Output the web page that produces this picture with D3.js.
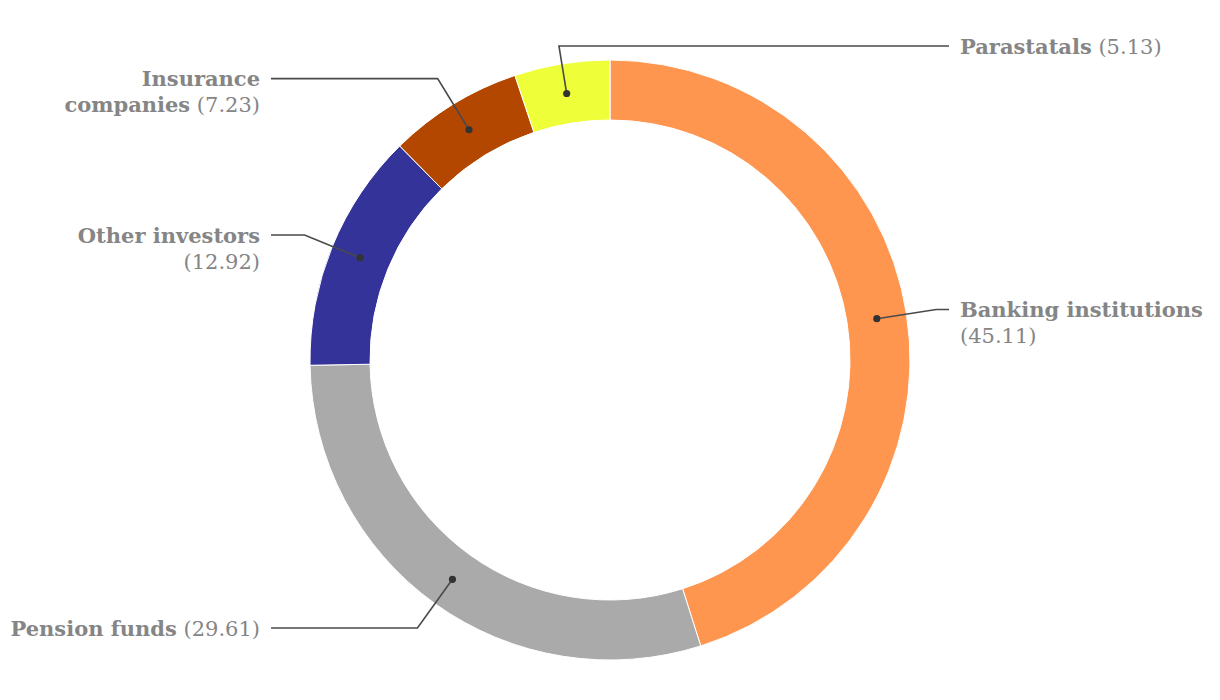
<!DOCTYPE html>
<html>
<head>
<meta charset="utf-8">
<script src="https://cdn.jsdelivr.net/npm/d3@7"></script>
<style>
  html, body { margin: 0; padding: 0; background: #ffffff; }
  svg { display: block; }
  text { font-family: "DejaVu Serif", "Liberation Serif", serif; }
</style>
</head>
<body>
<svg id="chart" width="1220" height="700"></svg>
<script>
// ---- data ----
const categories = ["Banking institutions", "Pension funds", "Other investors", "Insurance companies", "Parastatals"];
const values = [45.11, 29.61, 12.92, 7.23, 5.13];
const colors = ["#ff9650", "#aaaaaa", "#333399", "#b34700", "#eeff3a"];
// label wrapping: "\n" inside the name = line break; valueOwnLine = value on its own line
const labelNames = ["Banking institutions", "Pension funds", "Other investors", "Insurance\ncompanies", "Parastatals"];
const valueOwnLine = [true, false, true, false, false];

// ---- layout ----
const W = 1220, H = 700;
const cx = 610, cy = 360;
const outerR = 300, innerR = 240, dotR = 270, elbowR = 330;
const lineEndOffset = 339, labelOffset = 350;
const topLimit = -314;
const fontSize = 21, lineH = 26;

const svg = d3.select("#chart");
const g = svg.append("g").attr("transform", `translate(${cx},${cy})`);

const pie = d3.pie().sort(null).value(d => d.value).startAngle(0).endAngle(2 * Math.PI);
const data = categories.map((c, i) => ({ name: c, value: values[i], color: colors[i], label: labelNames[i], own: valueOwnLine[i] }));
const arcs = pie(data);

const arc = d3.arc().innerRadius(innerR).outerRadius(outerR);

g.selectAll("path.slice")
  .data(arcs)
  .join("path")
  .attr("class", "slice")
  .attr("d", arc)
  .attr("fill", d => d.data.color)
  .attr("stroke", "#ffffff")
  .attr("stroke-width", 1);

const fmt = d3.format(".2f");

// compute label anchors
const labels = arcs.map(a => {
  const mid = (a.startAngle + a.endAngle) / 2;
  const dot = d3.pointRadial(mid, dotR);
  let el = d3.pointRadial(mid, elbowR);
  if (el[1] < topLimit) {
    const y = topLimit;
    el = [-y * Math.tan(mid), y];
  }
  const nameLines = a.data.label.split("\n");
  const nLines = nameLines.length + (a.data.own ? 1 : 0);
  return { a, mid, dot, el, right: el[0] >= 0, nameLines, nLines };
});

// simple collision handling: flip the label nearer the top/centre to the other side
for (let i = 0; i < labels.length; i++) {
  for (let j = 0; j < labels.length; j++) {
    if (i === j) continue;
    const A = labels[i], B = labels[j];
    if (A.right !== B.right) continue;
    const upper = A.el[1] < B.el[1] ? A : B;
    const lower = upper === A ? B : A;
    const need = (upper.nLines + 1) * lineH;
    if (lower.el[1] - upper.el[1] < need && Math.abs(upper.el[0]) < Math.abs(lower.el[0])) {
      upper.right = !upper.right;
    }
  }
}

labels.forEach(L => {
  const a = L.a, dot = L.dot, el = L.el, right = L.right;
  const endX = right ? lineEndOffset : -lineEndOffset;
  const labX = right ? labelOffset : -labelOffset;

  g.append("path")
    .attr("d", d3.line()([dot, el, [endX, el[1]]]))
    .attr("fill", "none")
    .attr("stroke", "#4a4a4a")
    .attr("stroke-width", 1.6);
  g.append("circle")
    .attr("cx", dot[0]).attr("cy", dot[1]).attr("r", 3.6)
    .attr("fill", "#333333");

  const valStr = "(" + fmt(a.data.value) + ")";
  const lines = L.nameLines.map(n => [{ t: n, b: true }]);
  if (a.data.own) lines.push([{ t: valStr, b: false }]);
  else lines[lines.length - 1].push({ t: " " + valStr, b: false });

  const text = g.append("text")
    .attr("x", labX)
    .attr("y", el[1] + 7.5)
    .attr("text-anchor", right ? "start" : "end")
    .attr("font-size", fontSize)
    .attr("fill", "#858585");
  lines.forEach((ln, li) => {
    ln.forEach((tok, ti) => {
      const ts = text.append("tspan")
        .attr("font-weight", tok.b ? "bold" : "normal")
        .style("white-space", "pre")
        .text(tok.t);
      if (ti === 0) ts.attr("x", labX).attr("dy", li === 0 ? 0 : lineH);
    });
  });
});
</script>
</body>
</html>
